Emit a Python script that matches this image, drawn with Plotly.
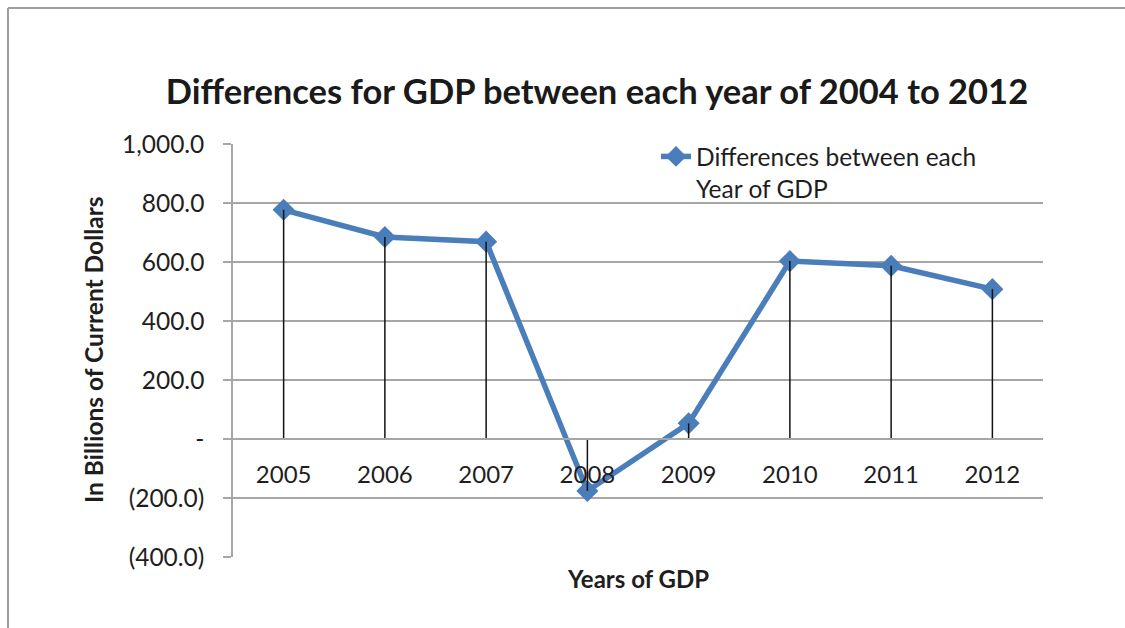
import plotly.graph_objects as go

years = ["2005", "2006", "2007", "2008", "2009", "2010", "2011", "2012"]
differences = [777, 685, 669, -176, 53, 603, 587, 508]

y_tickvals = [1000, 800, 600, 400, 200, 0, -200, -400]
y_ticktext = ["1,000.0", "800.0", "600.0", "400.0", "200.0", "-", "(200.0)", "(400.0)"]

title_text = "Differences for GDP between each year of 2004 to 2012"
series_name = "Differences between each<br>Year of GDP"
x_title = "Years of GDP"
y_title = "In Billions of Current Dollars"

W, H = 1125, 628
L, R, T, B = 233, 82, 144, 71
pw, ph = W - L - R, H - T - B

def px_x(x):
    return (x - L) / pw

def px_y(y):
    return 1 - (y - T) / ph

FONT = "Lato"
BLUE = "#4A7EBB"
GRID = "#A6A6A6"
TXT = "#1e1e1e"

fig = go.Figure()

fig.add_trace(go.Scatter(
    x=years, y=differences, mode="lines+markers", name=series_name,
    line=dict(color=BLUE, width=5.5),
    marker=dict(symbol="diamond", size=17, color=BLUE),
))

# drop lines from each point to zero
dx, dy = [], []
for yr, v in zip(years, differences):
    dx += [yr, yr, None]
    dy += [0, v, None]
fig.add_trace(go.Scatter(
    x=dx, y=dy, mode="lines", showlegend=False, hoverinfo="skip",
    line=dict(color="#111111", width=1.5),
))

ymin, ymax = -400, 1000
fig.update_layout(
    width=W, height=H,
    margin=dict(l=L, r=R, t=T, b=B),
    paper_bgcolor="white", plot_bgcolor="white",
    font=dict(family=FONT, size=24, color=TXT),
    title=dict(text="<b>" + title_text + "</b>", x=597 / W, xref="container",
               y=1 - 92 / H, yref="container", xanchor="center", yanchor="middle",
               font=dict(family=FONT, size=34.5, color="#1a1a1a")),
    showlegend=True,
    legend=dict(x=px_x(656), y=px_y(134), xanchor="left", yanchor="top",
                bgcolor="rgba(0,0,0,0)", valign="top",
                font=dict(family=FONT, size=24.5, color=TXT),
                itemwidth=30),
    xaxis=dict(
        type="category", range=[-0.5, 7.5], anchor="free",
        position=(0 - ymin) / (ymax - ymin),
        showline=True, linecolor=GRID, linewidth=1.5,
        showgrid=False, ticks="", ticklabelstandoff=14,
        tickfont=dict(family=FONT, size=24, color=TXT),
        zeroline=False,
    ),
    yaxis=dict(
        range=[ymin, ymax], tickvals=y_tickvals, ticktext=y_ticktext,
        showline=True, linecolor=GRID, linewidth=1.5,
        showgrid=True, gridcolor=GRID, gridwidth=1.5,
        ticks="outside", ticklen=8, tickcolor=GRID, tickwidth=1.5,
        ticklabelstandoff=14,
        tickfont=dict(family=FONT, size=24.5, color=TXT),
        zeroline=False,
    ),
    annotations=[
        dict(text="<b>" + x_title + "</b>", xref="paper", yref="paper",
             x=px_x(638), y=px_y(578), xanchor="center", yanchor="middle",
             showarrow=False, font=dict(family=FONT, size=24, color=TXT)),
        dict(text="<b>" + y_title + "</b>", xref="paper", yref="paper",
             x=px_x(93), y=px_y(350), xanchor="center", yanchor="middle",
             textangle=-90, showarrow=False,
             font=dict(family=FONT, size=24.5, color=TXT)),
    ],
    shapes=[
        dict(type="line", xref="paper", yref="paper",
             x0=px_x(8), x1=px_x(8), y0=px_y(8), y1=px_y(H + 5),
             line=dict(color="#9E9E9E", width=2)),
        dict(type="line", xref="paper", yref="paper",
             x0=px_x(8), x1=px_x(W + 5), y0=px_y(8), y1=px_y(8),
             line=dict(color="#9E9E9E", width=2)),
    ],
)

fig.write_html("out.html")
